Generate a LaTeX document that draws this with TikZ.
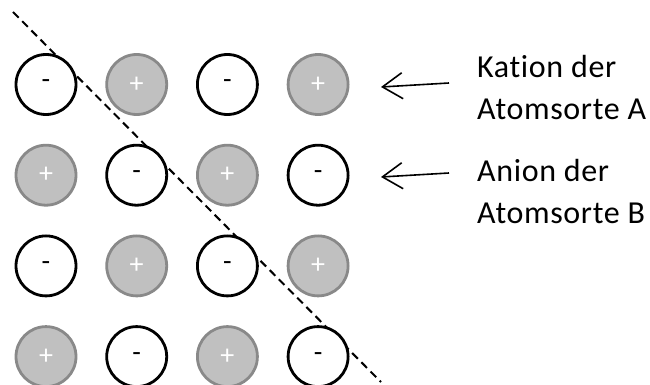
\documentclass[tikz,border=0pt]{standalone}
\usepackage{fontspec}
\setmainfont{Carlito}[Ligatures=NoCommon]
\usetikzlibrary{arrows.meta,positioning}
\definecolor{katfill}{RGB}{192,192,192}
\definecolor{katedge}{RGB}{137,137,137}
\tikzset{
  ion/.style={circle, line width=2.8pt, minimum size=60pt, inner sep=0pt,
              font=\fontsize{28}{28}\selectfont},
  anion/.style={ion, draw=black, fill=white},
  kation/.style={ion, draw=katedge, fill=katfill, text=white},
  lbl/.style={anchor=base west, align=left, inner sep=0pt,
              font=\fontsize{32}{42}\selectfont\addfontfeature{LetterSpace=2}},
  zeiger/.style={-{Straight Barb[length=20pt,width=26pt]}, line width=1.6pt},
  ebene/.style={dash pattern=on 8pt off 5pt, line width=2pt},
}

\begin{document}
\begin{tikzpicture}[x=1pt, y=-1pt]
  \useasboundingbox (0,0) rectangle (650,385);

  % Spaltebene quer durch das Gitter
  \coordinate (ebeneA) at (13,12);
  \coordinate (ebeneB) at (381,382);
  \draw[ebene] (ebeneA) -- (ebeneB);

  % Ionengitter 4x4
  \foreach \r in {0,...,3}{
    \foreach \c in {0,...,3}{
      \pgfmathtruncatemacro{\typ}{mod(\r+\c,2)}
      \ifnum\typ=0
        \node[anion] (ion-\r-\c) at ({46+90.7*\c},{84.5+90.7*\r}) {-};
      \else
        \node[kation] (ion-\r-\c) at ({46+90.7*\c},{84.5+90.7*\r}) {+};
      \fi
    }}

  % Beschriftung (base = Grundlinie der zweiten Zeile)
  \node[lbl] (kat) at (477,120) {Kation der\\Atomsorte A};
  \node[lbl] (an) at (477,223) {Anion der\\Atomsorte B};
  \coordinate (zielKat) at (381,87);
  \coordinate (zielAn) at (381,177);
  \draw[zeiger] ([xshift=-28pt,yshift=37pt]kat.base west) -- (zielKat);
  \draw[zeiger] ([xshift=-28pt,yshift=50pt]an.base west) -- (zielAn);
\end{tikzpicture}
\end{document}
